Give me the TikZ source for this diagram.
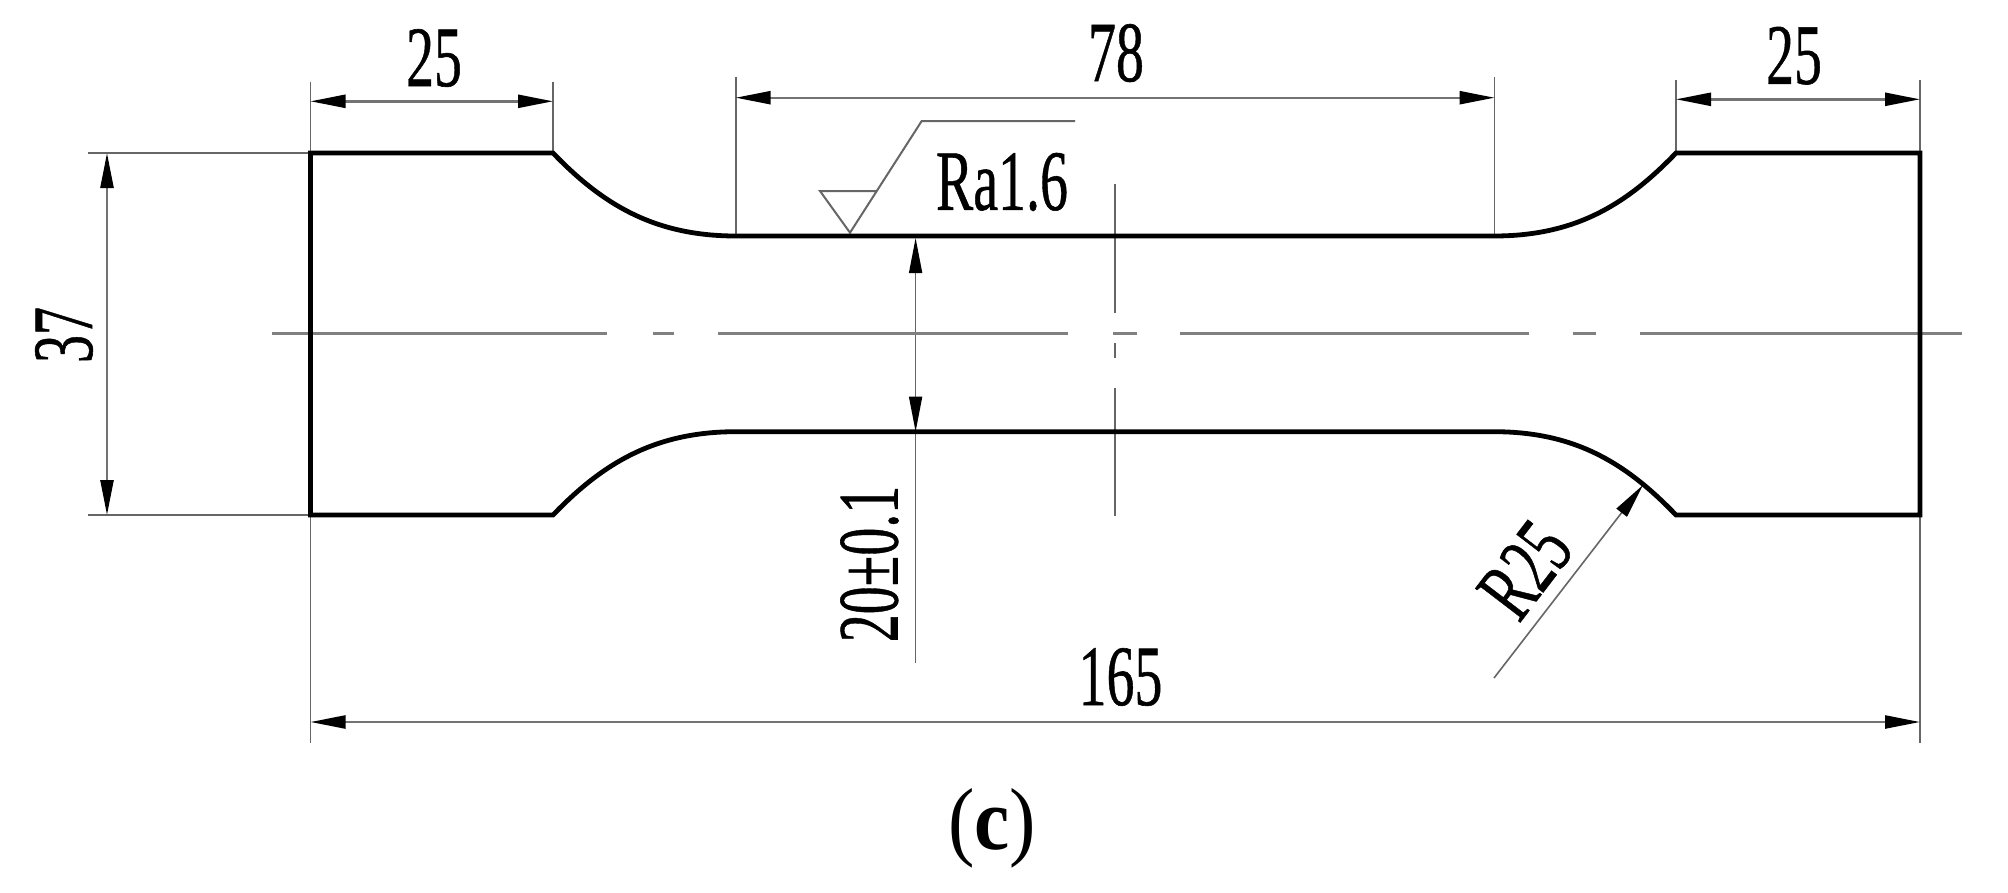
\documentclass[tikz,border=0pt]{standalone}
\usepackage{fontspec}
\setmainfont{Liberation Serif}
\newfontfamily\dimfont[FakeBold=0.7]{Liberation Serif}
\usetikzlibrary{arrows.meta}
\tikzset{
  outline/.style={line width=4.8pt,black,line cap=round,line join=miter},
  thinline/.style={line width=1.6pt,black!60},
  dimline/.style={line width=2.4pt,black!55,{Triangle[length=35pt,width=13pt,black]}-{Triangle[length=35pt,width=13pt,black]}},
  centerline/.style={line width=3pt,black!50},
  dimtext/.style={inner sep=0pt,font=\dimfont\fontsize{86}{86}\selectfont,xscale=.65,transform shape,text=black}
}
\begin{document}
\begin{tikzpicture}[x=1pt,y=-1pt]
\useasboundingbox[fill=white] (0,0) rectangle (2008,892);
% key points
\coordinate (TL) at (310.5,153);
\coordinate (TS1) at (553,153);
\coordinate (TN1) at (736,236);
\coordinate (TN2) at (1494,236);
\coordinate (TS2) at (1676,153);
\coordinate (TR) at (1920,153);
\coordinate (BR) at (1920,515);
\coordinate (BS2) at (1676,515);
\coordinate (BN2) at (1494,431.7);
\coordinate (BN1) at (736,431.7);
\coordinate (BS1) at (553,515);
\coordinate (BL) at (310.5,515);
% extension lines
\coordinate (eL25a) at (310.5,81.7);
\coordinate (eL25b) at (553,81.7);
\coordinate (e78a) at (735.7,76.7);
\coordinate (e78ae) at (735.7,235);
\coordinate (e78b) at (1494.5,76.7);
\coordinate (e78be) at (1494.5,235);
\coordinate (eR25a) at (1676,80);
\coordinate (eR25b) at (1920,80);
\coordinate (e37a) at (87.7,153);
\coordinate (e37b) at (87.7,515);
\coordinate (e165a) at (310.5,742.7);
\coordinate (e165b) at (1920,742.7);
\coordinate (e20) at (915.6,662.7);
\foreach \a/\b in {eL25a/TL,eL25b/TS1,e78a/e78ae,e78b/e78be,eR25a/TS2,eR25b/TR,e37a/TL,e37b/BL,e165a/BL,e165b/BR}
  \draw[thinline] (\a) -- (\b);
% dimension arrows
\coordinate (dL25a) at (310.5,101.3); \coordinate (dL25b) at (553,101.3);
\coordinate (d78a) at (735.7,97.7); \coordinate (d78b) at (1494.5,97.7);
\coordinate (dR25a) at (1676,99.3); \coordinate (dR25b) at (1920,99.3);
\coordinate (d37a) at (107,153); \coordinate (d37b) at (107,515);
\coordinate (d165a) at (310.5,722); \coordinate (d165b) at (1920,722);
\coordinate (d20a) at (915.6,238); \coordinate (d20b) at (915.6,431.7);
\foreach \a/\b in {dL25a/dL25b,d78a/d78b,dR25a/dR25b,d37a/d37b,d165a/d165b}
  \draw[dimline] (\a) -- (\b);
\draw[thinline,{Triangle[length=35pt,width=13pt,black]}-{Triangle[length=35pt,width=13pt,black]}] (d20a) -- (d20b);
\draw[thinline] (d20b) -- (e20);
% radius leader
\coordinate (r25a) at (1494,678); \coordinate (r25b) at (1643,485);
\draw[thinline,-{Triangle[length=35pt,width=13pt,black]}] (r25a) -- (r25b);
% centre lines
\foreach \xa/\xb in {272/607,653/673.6,718.4/1068,1113/1136.5,1180/1529,1572.6/1596,1640/1962}
  \draw[centerline] (\xa,333.7) -- (\xb,333.7);
\foreach \ya/\yb in {184/313,343/358,388/516}
  \draw[thinline] (1114.8,\ya) -- (1114.8,\yb);
% surface symbol
\coordinate (sA) at (820,191);
\coordinate (sB) at (876.7,191);
\coordinate (sC) at (850,232.7);
\coordinate (sD) at (921.7,121);
\coordinate (sE) at (1075,121);
\draw[thinline,line width=2pt,line join=miter] (sB) -- (sA) -- (sC) -- (sD) -- (sE);
% outline
\draw[outline] (TL) -- (TS1)
  .. controls (603,205) and (655,236) .. (TN1) -- (TN2)
  .. controls (1575,236) and (1626,205) .. (TS2) -- (TR) -- (BR) -- (BS2)
  .. controls (1626,463) and (1575,431.7) .. (BN2) -- (BN1)
  .. controls (655,431.7) and (603,463) .. (BS1) -- (BL) -- cycle;
% labels
\node[dimtext] (lL25) at (434,58) {25};
\node[dimtext] (l78) at (1116,53) {78};
\node[dimtext] (lR25) at (1794,55.7) {25};
\node[dimtext] (lRa) at (1002,182) {Ra1.6};
\node[dimtext] (l165) at (1120.5,677) {165};
\node[rotate=90,dimtext] (l37) at (64,335) {37};
\node[rotate=90,dimtext] (l20) at (869.5,564) {20±0.1};
\node[rotate=52.6,dimtext] (lr) at (1525,570) {R25};
\node[inner sep=0pt,font=\fontsize{88}{88}\selectfont,xscale=.9,transform shape] (lc) at (992,828) {(\textbf{c})};
\end{tikzpicture}
\end{document}
